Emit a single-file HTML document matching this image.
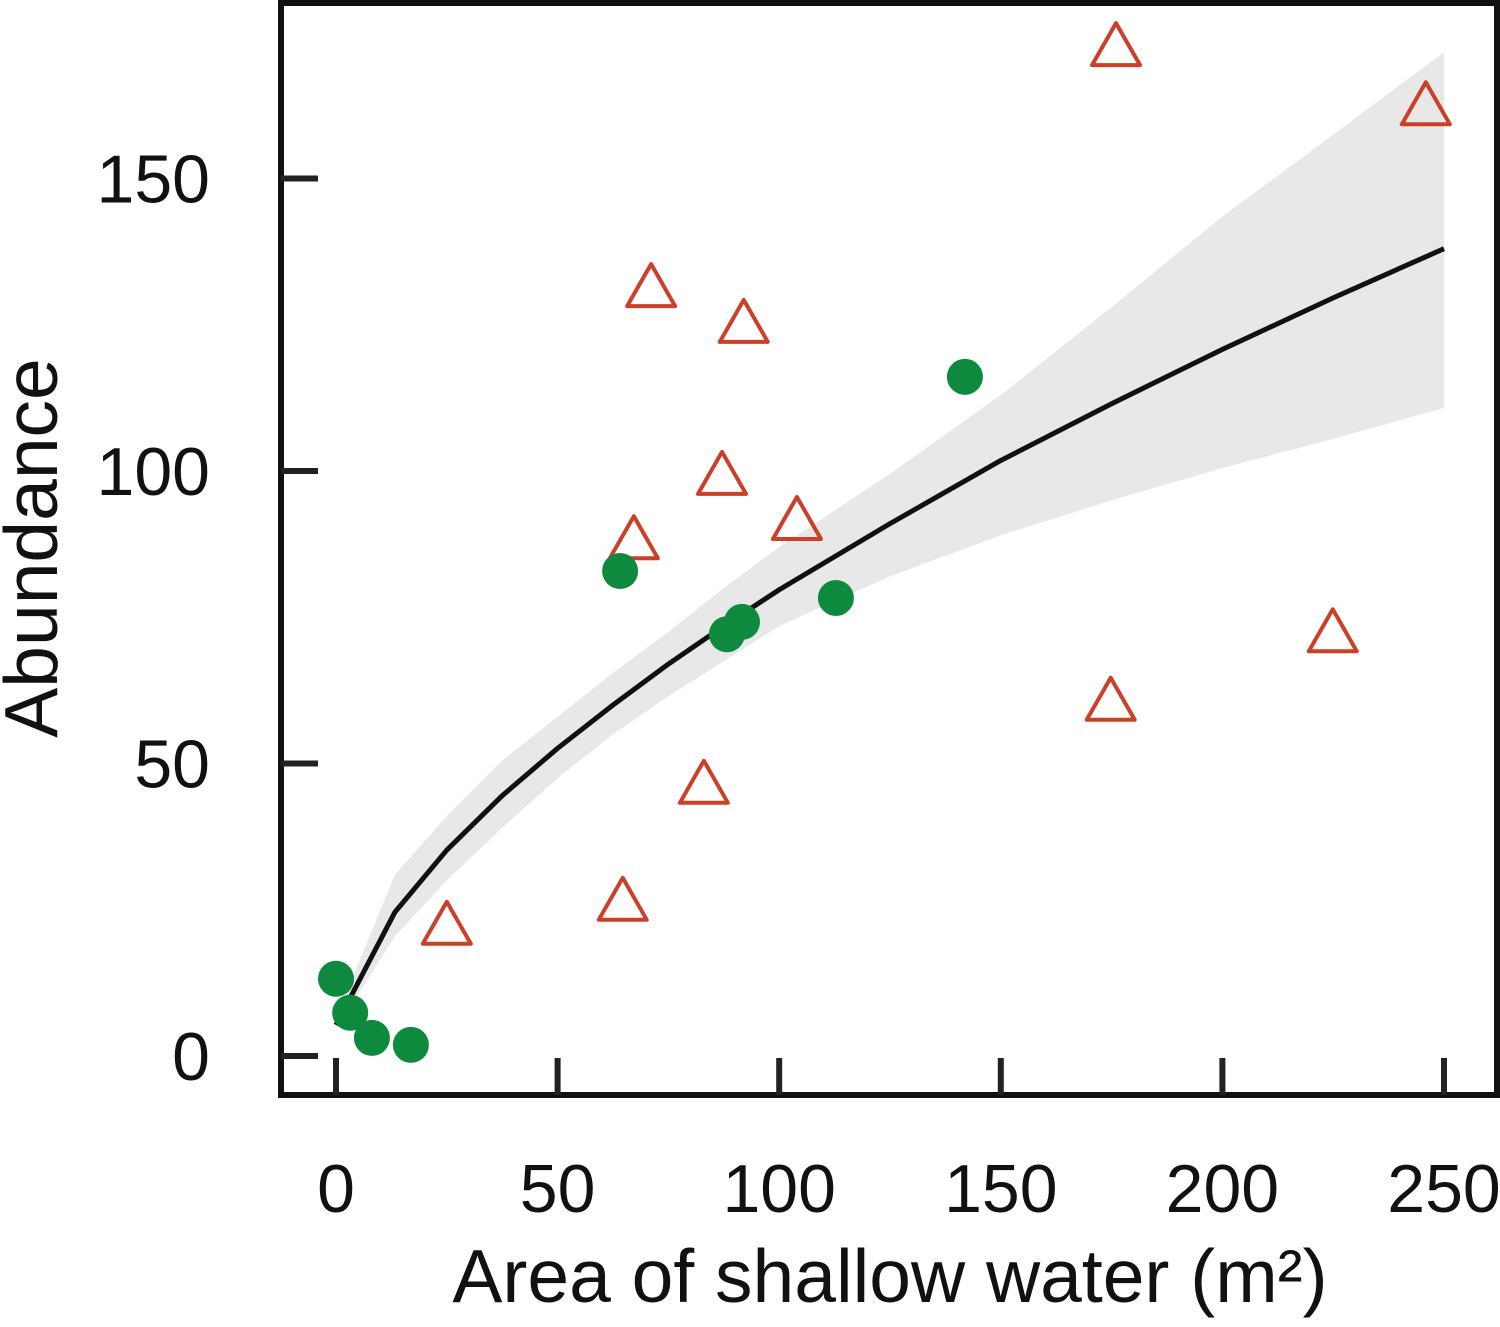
<!DOCTYPE html>
<html><head><meta charset="utf-8"><style>
html,body{margin:0;padding:0;background:#fff;}
svg text{font-family:"Liberation Sans",Arial,sans-serif;fill:#111;}
</style></head><body>
<svg id="chart" width="1500" height="1322" viewBox="0 0 1500 1322" xmlns="http://www.w3.org/2000/svg">
<g id="band"></g>
<g id="fit"></g>
<g id="pts"></g>
<rect x="281" y="3" width="1216" height="1092" fill="none" stroke="#111" stroke-width="6"/>
<g id="axes"></g>
<text x="890" y="1302" font-size="75" text-anchor="middle">Area of shallow water (m²)</text>
<text transform="translate(57,548) rotate(-90)" font-size="75" text-anchor="middle">Abundance</text>
</svg>
<script>
const xTicks=[0,50,100,150,200,250];
const yTicks=[0,50,100,150];
const greenX=[0,3.2,8.1,16.9,64.1,88.2,91.6,112.8,141.9];
const greenY=[13.2,7.4,3.1,1.9,82.9,72.1,74.2,78.3,116.1];
const redX=[176,245.9,71.1,92,87.1,67.2,104,224.9,174.8,83,64.7,25];
const redY=[172.8,162.7,131.6,125.5,99.5,88.5,91.8,72.6,60.9,46.7,26.7,22.6];
const fitX=[0,13.3,25,37.5,50,62.5,75,87.5,100,125,150,175,200,225,250];
const fitY=[5.3,24.6,35.2,44.5,52.6,60,67,73.5,79.7,91,101.8,111.5,120.8,129.6,138];
const bandUpper=[6.5,31,41,50.5,58,65.5,72.5,80,87,99.5,113,128,143.5,157.5,171.6];
const bandLower=[4.5,20.5,30,39,47.5,55,61.5,67.5,73.5,82,89,95,100.5,105.5,110.8];
const NS='http://www.w3.org/2000/svg';
const sx=v=>336+v*4.432;
const sy=v=>1056-v*5.85;
function mk(tag,parent,attrs){const e=document.createElementNS(NS,tag);for(const k in attrs)e.setAttribute(k,attrs[k]);parent.appendChild(e);return e;}
const band=document.getElementById('band'),fit=document.getElementById('fit'),pts=document.getElementById('pts'),axes=document.getElementById('axes');
let d='M'+fitX.map((x,i)=>sx(x)+','+sy(bandUpper[i])).join(' L');
d+=' L'+fitX.map((x,i)=>sx(x)+','+sy(bandLower[i])).reverse().join(' L')+' Z';
const bp=mk('path',band,{d:d,fill:'#e8e8e8'});


const fl=mk('path',fit,{d:'M'+fitX.map((x,i)=>sx(x)+','+sy(fitY[i])).join(' L'),fill:'none',stroke:'#111','stroke-width':5,'stroke-linejoin':'round'});


redX.forEach((x,i)=>{const cx=sx(x),cy=sy(redY[i]);
const t=mk('polygon',pts,{points:`${cx},${cy-22} ${cx+24},${cy+20} ${cx-24},${cy+20}`,fill:'none',stroke:'#cc3f28','stroke-width':4,'stroke-linejoin':'round'});

});
greenX.forEach((x,i)=>{const c=mk('circle',pts,{cx:sx(x),cy:sy(greenY[i]),r:18,fill:'#0e8a3e'});

});
xTicks.forEach(v=>{const l=mk('line',axes,{x1:sx(v),x2:sx(v),y1:1058,y2:1095,stroke:'#222','stroke-width':6});


const t=mk('text',axes,{x:sx(v),y:1212,'font-size':68,'text-anchor':'middle'});t.textContent=v;

});
yTicks.forEach(v=>{const l=mk('line',axes,{x1:281,x2:318,y1:sy(v),y2:sy(v),stroke:'#222','stroke-width':6});


const t=mk('text',axes,{x:210,y:sy(v)+24,'font-size':68,'text-anchor':'end'});t.textContent=v;

});
</script>
</body></html>
